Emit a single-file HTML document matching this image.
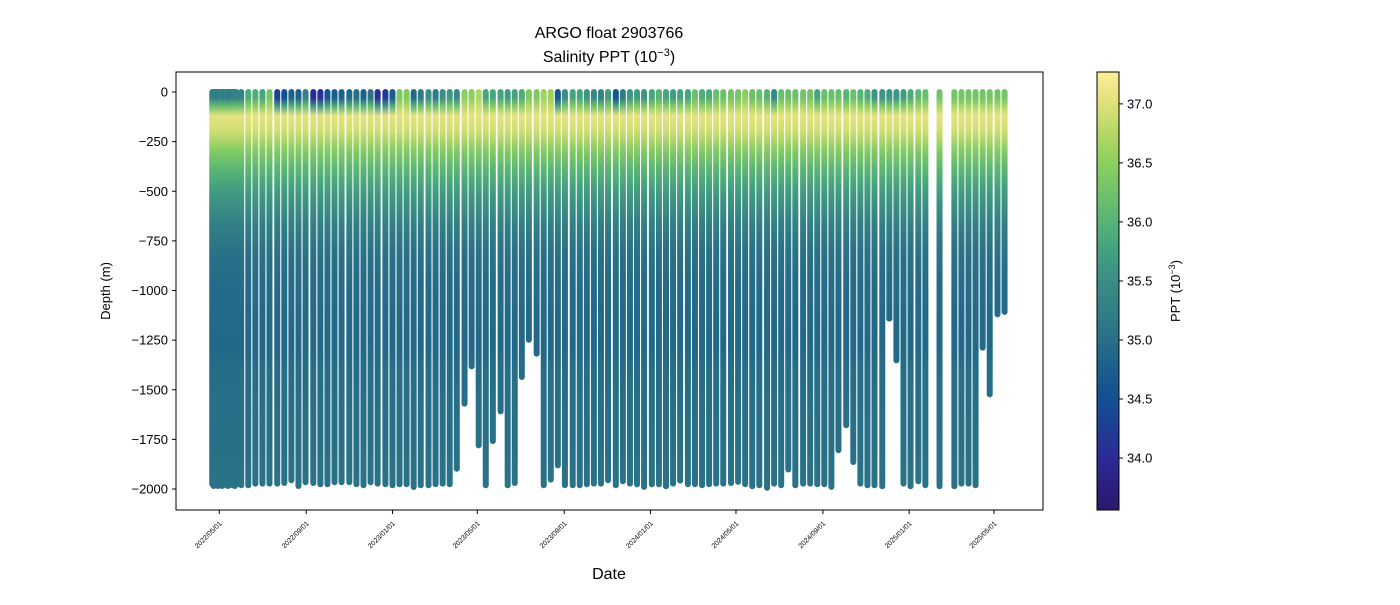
<!DOCTYPE html>
<html><head><meta charset="utf-8"><style>
body{margin:0;background:#fff;}
svg text{font-family:"Liberation Sans","DejaVu Sans",sans-serif;fill:#000;}
</style></head><body>
<svg id="chart" width="1400" height="600" xmlns="http://www.w3.org/2000/svg">
<defs id="defs"></defs>
<text x="609" y="38" font-size="16" text-anchor="middle">ARGO float 2903766</text>
<text x="609" y="62" font-size="16" text-anchor="middle">Salinity PPT (10<tspan dy="-6" font-size="11">−3</tspan><tspan dy="6">)</tspan></text>
<g id="marks"></g>
<rect x="176" y="72" width="867" height="438" fill="none" stroke="#000" stroke-width="1"/>
<g id="yaxis"></g>
<g id="xaxis"></g>
<text transform="translate(110,291) rotate(-90)" font-size="13" text-anchor="middle">Depth (m)</text>
<text x="609" y="579" font-size="16" text-anchor="middle">Date</text>
<rect id="cbar" x="1097" y="72" width="22" height="438" stroke="#000" stroke-width="1"/>
<g id="caxis"></g>
<text transform="translate(1180,291) rotate(-90)" font-size="13" text-anchor="middle">PPT (10<tspan dy="-5" font-size="9">−3</tspan><tspan dy="5">)</tspan></text>
</svg>
<script>
// profile dates: days since 2022-05-01
const earlyDays=[-10,-8,-6,-4,-2,0,2,4,6,8,10,12,14,16,18,20,22,24];
const earlyDepth=[1975,1985,1980,1980,1985,1980,1980,1985,1980,1978,1980,1985,1980,1978,1980,1982,1985,1978];
const earlySurf=[35.3,35.3,35.2,35.3,35.2,35.2,35.3,35.3,35.2,35.2,35.3,35.3,35.2,35.2,35.3,35.2,35.3,35.3];
const days=[31,41,51,61,71,82,92,102,112,122,133,143,153,163,173,184,194,204,214,224,235,245,255,265,275,285,296,306,316,326,336,347,357,367,377,387,398,408,418,428,438,449,459,469,479,489,500,510,520,530,540,550,561,571,581,591,601,612,622,632,642,652,663,673,683,693,703,713,724,734,744,754,764,775,785,795,805,815,826,836,846,856,866,876,887,897,907,917,927,938,948,958,968,978,989,999,1019,1040,1050,1060,1070,1080,1090,1101,1111];
const maxDepth=[1981,1981,1973,1973,1973,1973,1970,1956,1985,1966,1970,1976,1976,1966,1966,1966,1976,1981,1966,1973,1976,1981,1976,1976,1990,1981,1981,1976,1973,1976,1898,1570,1382,1780,1981,1758,1609,1981,1970,1436,1248,1318,1981,1953,1881,1981,1981,1981,1976,1973,
1973,1956,1981,1961,1973,1977,1989,1977,1977,1986,1973,1958,1976,1976,1981,1976,1973,1973,1970,1964,1976,1986,1981,1994,1973,1981,1902,1981,1973,1973,1976,1976,1989,1805,1679,1864,1973,1981,1981,1986,1142,1352,1973,1986,1961,1981,1986,1986,1973,1973,1981,1288,1523,1120,1108];
const surfSal=[35.3,35.9,35.9,35.8,36.3,34.3,34.5,34.8,34.8,35.3,34.0,34.1,34.6,34.7,34.8,34.9,35.0,34.8,35.1,34.1,34.2,34.7,36.4,36.4,34.9,35.2,35.5,35.2,35.5,35.6,35.4,36.5,36.5,36.7,35.8,35.8,35.8,35.7,35.8,35.9,36.4,36.4,36.6,36.6,34.6,35.5,35.8,35.8,35.6,35.4,
35.3,35.7,34.6,35.2,35.6,35.7,35.6,35.8,36.0,35.8,35.7,35.8,35.8,36.2,35.9,35.9,36.2,36.2,36.3,36.3,36.5,36.2,36.2,36.0,35.4,36.2,36.2,36.2,36.3,36.3,35.8,36.2,36.2,36.2,36.0,36.2,36.0,35.9,35.6,35.6,35.6,35.6,35.7,35.9,36.1,36.2,36.3,36.3,36.3,36.3,36.3,36.3,36.3,36.3,36.3];
const yTicks=[0,-250,-500,-750,-1000,-1250,-1500,-1750,-2000];
const xTickDays=[0,123,245,365,488,610,731,854,976,1096];
const xTickLabels=["2022/05/01","2022/09/01","2023/01/01","2023/05/01","2023/09/01","2024/01/01","2024/05/01","2024/09/01","2025/01/01","2025/05/01"];
const cTicks=[34.0,34.5,35.0,35.5,36.0,36.5,37.0];
const cmin=33.56,cmax=37.27;

const NS="http://www.w3.org/2000/svg";
const xScale=d=>219.3+d*0.7068;
const yScale=v=>92-v*0.1985;
const cScale=v=>510-(v-cmin)/(cmax-cmin)*438;
const cmap=[[33.56,[42,24,108]],[34.0,[44,42,150]],[34.5,[19,79,147]],[34.75,[26,95,140]],[35.0,[40,111,135]],[35.5,[58,142,134]],[35.75,[67,160,128]],[36.0,[86,180,118]],[36.5,[140,207,94]],[36.8,[188,217,104]],[37.0,[223,224,122]],[37.27,[253,238,153]]];
function color(v){
  if(v<=cmap[0][0])return rgb(cmap[0][1]);
  for(let i=1;i<cmap.length;i++){if(v<=cmap[i][0]){const a=cmap[i-1],b=cmap[i];const t=(v-a[0])/(b[0]-a[0]);return rgb(a[1].map((c,k)=>c+(b[1][k]-c)*t));}}
  return rgb(cmap[cmap.length-1][1]);
}
function rgb(c){return 'rgb('+c.map(x=>Math.round(x)).join(',')+')';}
const shapeD=[0,30,70,120,200,300,400,500,650,800,1000,1300,1400,2000];
function shapeV(surf){return [surf,surf,(surf+37.05)/2,37.05,36.9,36.4,36.0,35.7,35.3,35.05,34.92,34.9,34.97,35.05];}
const defs=document.getElementById('defs');
const marks=document.getElementById('marks');
let gid=0;
function drawProfile(day,depth,surf){
  const x=xScale(day),y0=yScale(0),y1=yScale(-depth);
  const g=document.createElementNS(NS,'linearGradient');
  const id='g'+(gid++);
  g.setAttribute('id',id);g.setAttribute('gradientUnits','userSpaceOnUse');
  g.setAttribute('x1',0);g.setAttribute('x2',0);g.setAttribute('y1',y0);g.setAttribute('y2',yScale(-2000));
  const vals=shapeV(surf);
  shapeD.forEach((d,k)=>{const s=document.createElementNS(NS,'stop');s.setAttribute('offset',d/2000);s.setAttribute('stop-color',color(vals[k]));g.appendChild(s);});
  defs.appendChild(g);
  const r=document.createElementNS(NS,'rect');
  
  
  r.setAttribute('x',x-3);r.setAttribute('y',y0-3);r.setAttribute('width',6);r.setAttribute('height',y1-y0+6);r.setAttribute('rx',3);
  r.setAttribute('fill','url(#'+id+')');
  marks.appendChild(r);
}
earlyDays.forEach((d,i)=>drawProfile(d,earlyDepth[i],earlySurf[i]));
days.forEach((d,i)=>drawProfile(d,maxDepth[i],surfSal[i]));

const ya=document.getElementById('yaxis');
yTicks.forEach(v=>{
  const y=yScale(v);
  const l=document.createElementNS(NS,'line');
  
  
  l.setAttribute('x1',172);l.setAttribute('x2',176);l.setAttribute('y1',y);l.setAttribute('y2',y);l.setAttribute('stroke','#000');
  ya.appendChild(l);
  const t=document.createElementNS(NS,'text');
  
  
  t.setAttribute('x',168);t.setAttribute('y',y+4.5);t.setAttribute('font-size','13');t.setAttribute('text-anchor','end');
  t.textContent=v===0?'0':'−'+Math.abs(v);
  ya.appendChild(t);
});
const xa=document.getElementById('xaxis');
xTickDays.forEach((d,i)=>{
  const x=xScale(d);
  const l=document.createElementNS(NS,'line');
  
  
  l.setAttribute('x1',x);l.setAttribute('x2',x);l.setAttribute('y1',510);l.setAttribute('y2',514);l.setAttribute('stroke','#000');
  xa.appendChild(l);
  const t=document.createElementNS(NS,'text');
  
  
  t.setAttribute('transform','translate('+(x+3)+',524) rotate(-45)');
  t.setAttribute('font-size','7');t.setAttribute('text-anchor','end');
  t.textContent=xTickLabels[i];
  xa.appendChild(t);
});
// colorbar gradient
const cg=document.createElementNS(NS,'linearGradient');
cg.setAttribute('id','cbg');cg.setAttribute('x1',0);cg.setAttribute('x2',0);cg.setAttribute('y1',1);cg.setAttribute('y2',0);
cmap.forEach(s=>{const st=document.createElementNS(NS,'stop');st.setAttribute('offset',(s[0]-cmin)/(cmax-cmin));st.setAttribute('stop-color',rgb(s[1]));cg.appendChild(st);});
defs.appendChild(cg);
document.getElementById('cbar').setAttribute('fill','url(#cbg)');
const ca=document.getElementById('caxis');
cTicks.forEach(v=>{
  const y=cScale(v);
  const l=document.createElementNS(NS,'line');
  
  
  l.setAttribute('x1',1119);l.setAttribute('x2',1123);l.setAttribute('y1',y);l.setAttribute('y2',y);l.setAttribute('stroke','#000');
  ca.appendChild(l);
  const t=document.createElementNS(NS,'text');
  
  
  t.setAttribute('x',1127);t.setAttribute('y',y+4.5);t.setAttribute('font-size','13');
  t.textContent=v.toFixed(1);
  ca.appendChild(t);
});
</script>
</body></html>
